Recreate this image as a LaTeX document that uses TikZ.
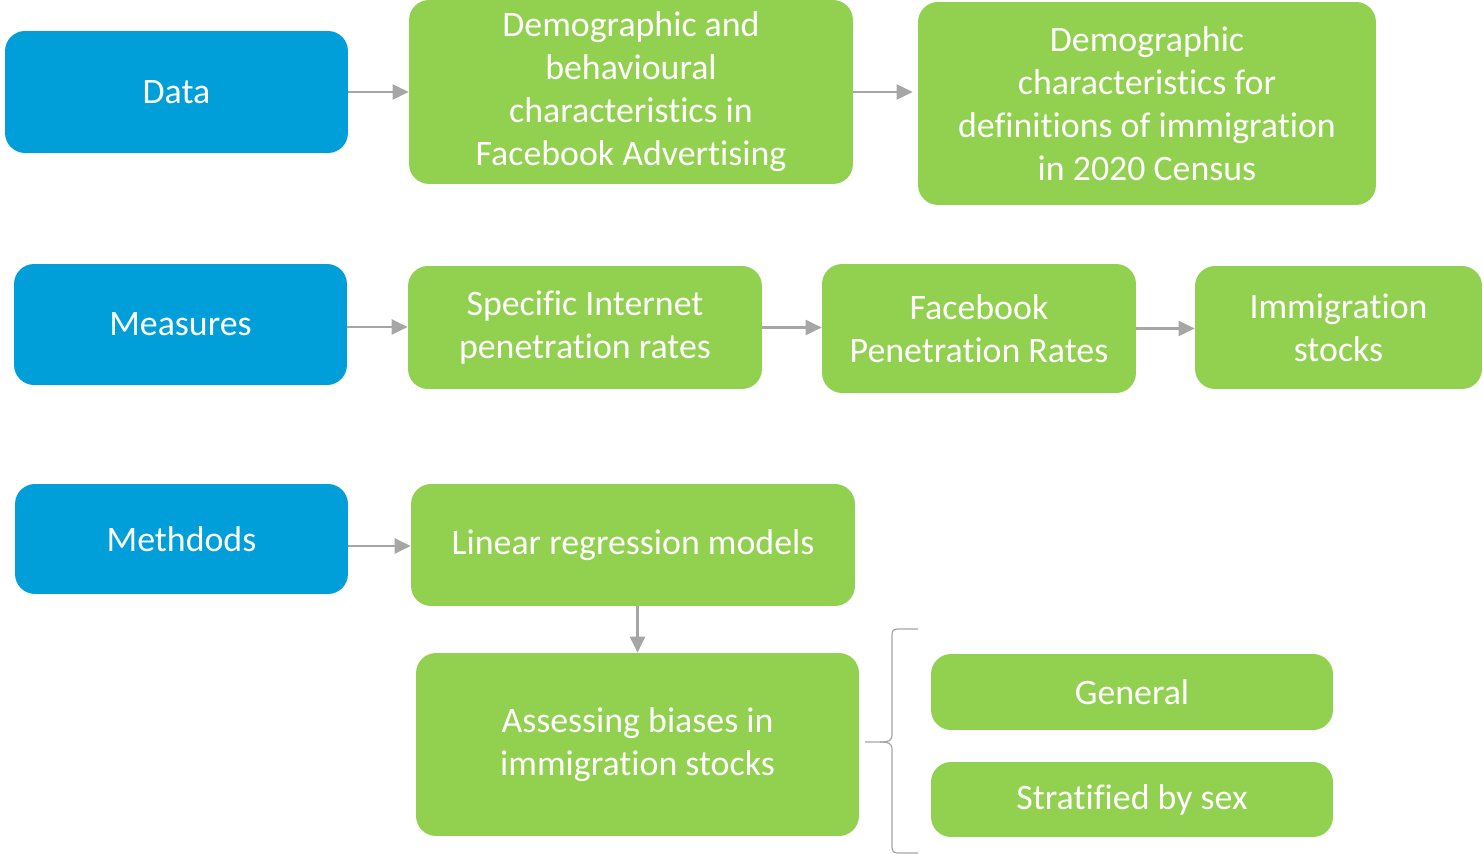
\documentclass[tikz,border=0pt]{standalone}
\usepackage{fontspec}
\setmainfont[Ligatures=NoCommon]{Carlito}
\usetikzlibrary{arrows.meta}
\definecolor{stageblue}{HTML}{009FDA}
\definecolor{stepgreen}{HTML}{92D050}
\definecolor{linkgray}{HTML}{A6A6A6}
\tikzset{
  card/.style={rounded corners=0.4cm, align=center, text=white, inner sep=0pt,
    font=\fontsize{20.4}{24.5}\selectfont},
  head/.style={card, fill=stageblue},
  item/.style={card, fill=stepgreen},
  flow/.style={-{Triangle[length=3.2mm, width=3mm]}, linkgray, line width=1.2pt},
}

\begin{document}
\begin{tikzpicture}[x=0.02cm, y=-0.02cm]
  \useasboundingbox (0,0) rectangle (1483,854);

  % row 1: data
  \node[head, minimum width=6.86cm, minimum height=2.44cm] (data) at (176.5,92) {Data};
  \node[item, minimum width=8.88cm, minimum height=3.68cm] (fbads) at (631,92)
    {Demographic and\\ behavioural\\ characteristics in\\ Facebook Advertising};
  \node[item, minimum width=9.16cm, minimum height=4.06cm] (census) at (1147,103.5)
    {Demographic\\ characteristics for\\ definitions of immigration\\ in 2020 Census};

  % row 2: measures
  \node[head, minimum width=6.66cm, minimum height=2.42cm] (measures) at (180.5,324.5) {Measures};
  \node[item, minimum width=7.08cm, minimum height=2.46cm] (internet) at (585,327.5)
    {Specific Internet\\ penetration rates};
  \node[item, minimum width=6.28cm, minimum height=2.58cm] (fbrates) at (979,328.5)
    {Facebook\\ Penetration Rates};
  \node[item, minimum width=5.74cm, minimum height=2.46cm] (stocks) at (1338.5,327.5)
    {Immigration\\ stocks};

  % row 3: methods
  \node[head, minimum width=6.66cm, minimum height=2.2cm] (methods) at (181.5,539) {Methdods};
  \node[item, minimum width=8.88cm, minimum height=2.44cm] (linreg) at (633,545)
    {Linear regression models};
  \node[item, minimum width=8.86cm, minimum height=3.66cm] (biases) at (637.5,744.5)
    {Assessing biases in\\ immigration stocks};
  \node[item, minimum width=8.04cm, minimum height=1.52cm] (general) at (1132,692) {General};
  \node[item, minimum width=8.04cm, minimum height=1.5cm] (bysex) at (1132,799.5) {Stratified by sex};

  \draw[flow] (data.east) -- (data.east -| fbads.west);
  \draw[flow] (fbads.east) -- ([xshift=-0.1cm]fbads.east -| census.west);
  \draw[flow] ([yshift=-0.05cm]measures.east) -- ([yshift=-0.05cm]measures.east -| internet.west);
  \draw[flow] (internet.east) -- (internet.east -| fbrates.west);
  \draw[flow] (fbrates.east) -- (fbrates.east -| stocks.west);
  \draw[flow] ([yshift=-0.14cm]methods.east) -- ([yshift=-0.14cm]methods.east -| linreg.west);
  \draw[flow] (biases.north |- linreg.south) -- (biases.north);

  % brace grouping the two variants
  \draw[linkgray, line width=0.7pt]
    (918,629) -- (898,629) .. controls (893,629) and (892,631) .. (892,636)
    -- (892,734) .. controls (892,741) and (889,742) .. (880,742) -- (865,742);
  \draw[linkgray, line width=0.7pt]
    (880,742) .. controls (889,742) and (892,743) .. (892,750)
    -- (892,846) .. controls (892,851) and (893,853) .. (898,853) -- (918,853);
\end{tikzpicture}
\end{document}
